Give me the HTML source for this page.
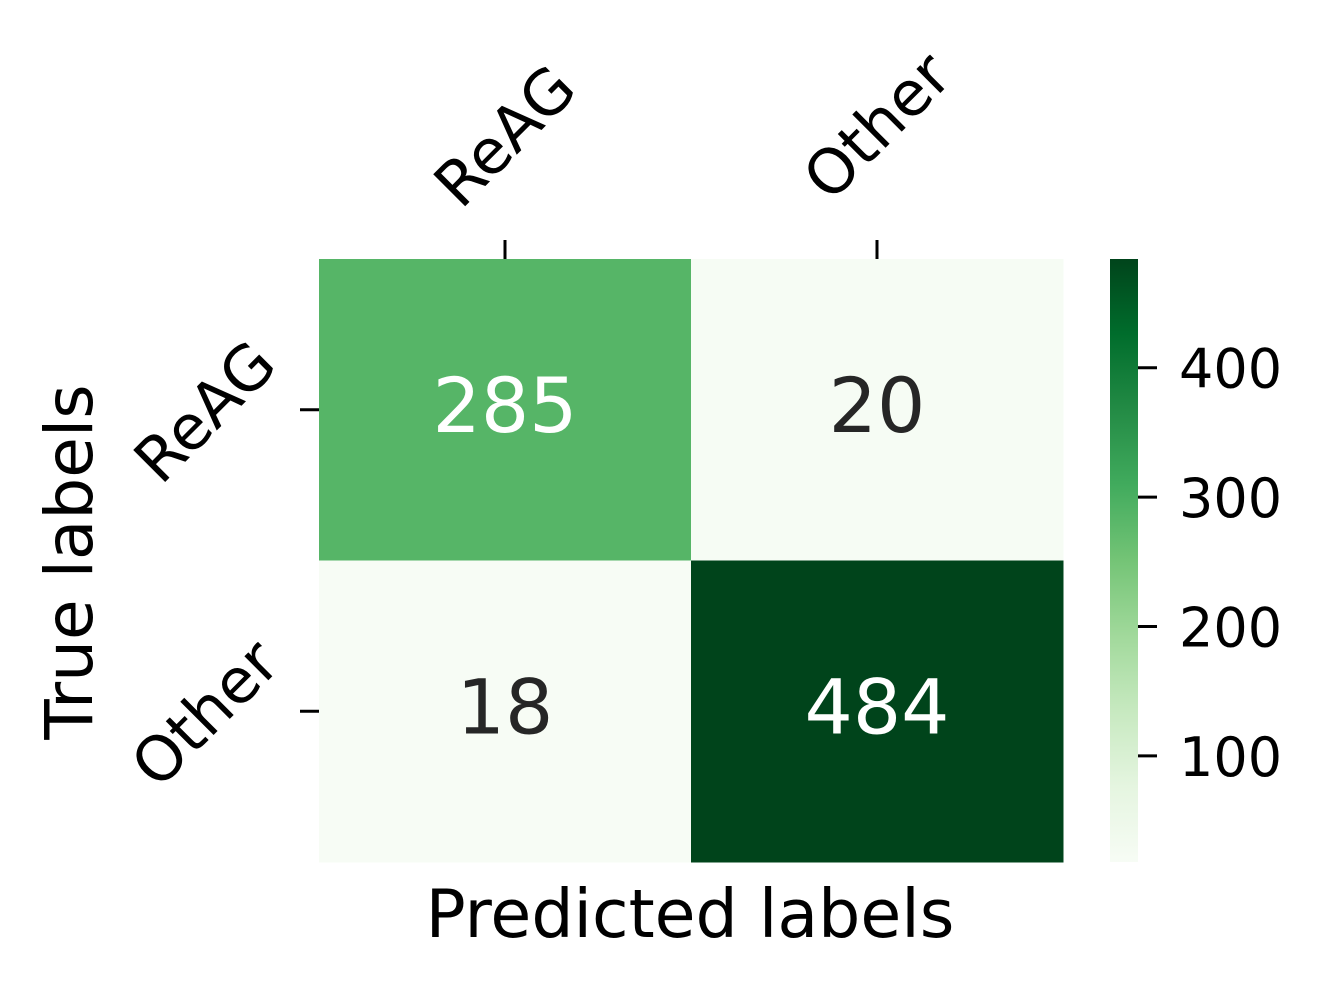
<!DOCTYPE html>
<html><head><meta charset="utf-8"><style>
html,body{margin:0;padding:0;background:#fff;width:1324px;height:991px;overflow:hidden}
svg text{font-family:"DejaVu Sans","Liberation Sans",sans-serif}
</style></head><body>
<svg id="chart" width="1324" height="991" viewBox="0 0 1324 991" xmlns="http://www.w3.org/2000/svg">
<defs>
<linearGradient id="greens" x1="0" y1="1" x2="0" y2="0">
<stop offset="0" stop-color="#f7fcf5"/><stop offset="0.125" stop-color="#e5f5e0"/><stop offset="0.25" stop-color="#c7e9c0"/><stop offset="0.375" stop-color="#a1d99b"/><stop offset="0.5" stop-color="#74c476"/><stop offset="0.625" stop-color="#41ab5d"/><stop offset="0.75" stop-color="#238b45"/><stop offset="0.875" stop-color="#006d2c"/><stop offset="1" stop-color="#00441b"/>
</linearGradient>
</defs>
<g id="cells"></g>
<rect x="1110" y="259" width="28" height="603" fill="url(#greens)"/>
<g id="cbticks"></g>
<g id="axes"></g>
<text x="690" y="937" font-size="66.5" text-anchor="middle" fill="#000">Predicted labels</text>
<text transform="translate(92,562) rotate(-90)" font-size="66" text-anchor="middle" fill="#000">True labels</text>
</svg>
<script>
const categories = ["ReAG", "Other"];
const rowReAG = [285, 20];
const rowOther = [18, 484];
const cbTicks = [100, 200, 300, 400];
const matrix = [rowReAG, rowOther];
const vmin = 18, vmax = 484;
const X0 = 319, X1 = 1063, Y0 = 259, Y1 = 862;
const cw = (X1 - X0) / categories.length, ch = (Y1 - Y0) / categories.length;
const stops = [[0,[247,252,245]],[0.125,[229,245,224]],[0.25,[199,233,192]],[0.375,[161,217,155]],[0.5,[116,196,118]],[0.625,[65,171,93]],[0.75,[35,139,69]],[0.875,[0,109,44]],[1,[0,68,27]]];
function color(v){
  let t = Math.max(0, Math.min(1, (v - vmin) / (vmax - vmin)));
  for (let i = 1; i < stops.length; i++) {
    if (t <= stops[i][0]) {
      const a = stops[i-1], b = stops[i], f = (t - a[0]) / (b[0] - a[0]);
      const c = a[1].map((x, k) => Math.round(x + (b[1][k] - x) * f));
      return `rgb(${c[0]},${c[1]},${c[2]})`;
    }
  }
  return "rgb(0,68,27)";
}
function xPos(i){ return X0 + cw * (i + 0.5); }
function yPos(i){ return Y0 + ch * (i + 0.5); }
function cbY(v){ return Y1 - (v - vmin) / (vmax - vmin) * (Y1 - Y0); }
const NS = "http://www.w3.org/2000/svg";
const cells = document.getElementById("cells");
const axes = document.getElementById("axes");
const cbt = document.getElementById("cbticks");
function mk(tag, attrs, parent){ const e = document.createElementNS(NS, tag); for (const k in attrs) e.setAttribute(k, attrs[k]); parent.appendChild(e); return e; }
matrix.forEach((row, r) => row.forEach((v, c) => {
  const rect = mk("rect", {x: X0 + c * cw, y: Y0 + r * ch, width: cw + 0.5, height: ch + 0.5, fill: color(v)}, cells);
  
  
  const t = mk("text", {x: xPos(c), y: yPos(r) + 22, "font-size": 76, "text-anchor": "middle", fill: (v - vmin) / (vmax - vmin) > 0.5 ? "#ffffff" : "#262626"}, cells);
  t.textContent = v;
  
  
}));
categories.forEach((name, i) => {
  const tk = mk("line", {x1: xPos(i), x2: xPos(i), y1: 240, y2: 259, stroke: "#000", "stroke-width": 3}, axes);
  
  
  const tl = mk("text", {transform: `translate(${xPos(i)},${i === 0 ? 136 : 126}) rotate(-45)`, "font-size": 62, "text-anchor": "middle", "dominant-baseline": "central", fill: "#000"}, axes);
  tl.textContent = name;
  
  
  const yk = mk("line", {x1: 300, x2: 319, y1: yPos(i), y2: yPos(i), stroke: "#000", "stroke-width": 3}, axes);
  
  
  const yl = mk("text", {transform: `translate(205,${yPos(i) + 2}) rotate(-45)`, "font-size": 62, "text-anchor": "middle", "dominant-baseline": "central", fill: "#000"}, axes);
  yl.textContent = name;
  
  
});
cbTicks.forEach(v => {
  const y = cbY(v);
  const l = mk("line", {x1: 1138, x2: 1157, y1: y, y2: y, stroke: "#000", "stroke-width": 3}, cbt);
  
  
  const t = mk("text", {x: 1179, y: y + 20, "font-size": 54, fill: "#000"}, cbt);
  t.textContent = v;
  
  
});
</script>
</body></html>
